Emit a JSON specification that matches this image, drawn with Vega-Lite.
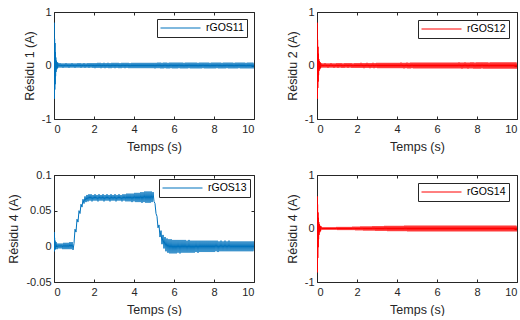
{
  "$schema": "https://vega.github.io/schema/vega-lite/v6.json",
  "padding": {"left": 7, "top": 5, "right": 0, "bottom": 0},
  "background": "white",
  "config": {
    "view": {"stroke": "#262626", "strokeWidth": 1},
    "font": "Liberation Sans",
    "axis": {"domain": false, "grid": false, "tickSize": -3, "tickColor": "#262626", "labelColor": "#262626", "titleColor": "#262626", "labelFontSize": 11, "titleFontSize": 12.5, "titleFontWeight": "normal", "labelFont": "Liberation Sans", "titleFont": "Liberation Sans"},
    "legend": {"orient": "top-right", "offset": 7, "strokeColor": "#262626", "fillColor": "white", "padding": 3, "clipHeight": 12, "symbolType": "stroke", "symbolSize": 1600, "symbolStrokeWidth": 1, "labelOffset": 5, "labelFontSize": 10.5, "labelColor": "#000000", "labelFont": "Liberation Sans", "cornerRadius": 0},
    "locale": {"number": {"decimal": ".", "thousands": ",", "grouping": [3], "currency": ["$", ""], "minus": "-"}}
  },
  "datasets": {
    "s1": [{"t":0,"v":0},{"t":0.01,"v":0.8},{"t":0.02,"v":-0.62},{"t":0.03,"v":0.5},{"t":0.04,"v":-0.45},{"t":0.05,"v":0.42},{"t":0.06,"v":-0.35},{"t":0.07,"v":0.25},{"t":0.08,"v":-0.2},{"t":0.09,"v":0.15},{"t":0.1,"v":-0.12},{"t":0.12,"v":0.09},{"t":0.14,"v":-0.07},{"t":0.16,"v":0.06},{"t":0.18,"v":-0.05},{"t":0.2,"v":0.05},
      {"t":0.25,"v":-0.04},{"t":0.3,"v":0.045},{"t":0.35,"v":-0.04},{"t":0.4,"v":0.04},{"t":0.45,"v":-0.045},{"t":0.5,"v":0.04},{"t":0.55,"v":-0.04},{"t":0.6,"v":0.045},{"t":0.65,"v":-0.04},{"t":0.7,"v":0.04},{"t":0.75,"v":-0.045},{"t":0.8,"v":0.04},{"t":0.85,"v":-0.04},{"t":0.9,"v":0.045},{"t":0.95,"v":-0.04},{"t":1,"v":0.04},
      {"t":1.05,"v":-0.045},{"t":1.1,"v":0.04},{"t":1.15,"v":-0.04},{"t":1.2,"v":0.045},{"t":1.25,"v":-0.04},{"t":1.3,"v":0.045},{"t":1.35,"v":-0.045},{"t":1.4,"v":0.04},{"t":1.45,"v":-0.04},{"t":1.5,"v":0.045},{"t":1.55,"v":-0.045},{"t":1.6,"v":0.04},{"t":1.65,"v":-0.04},{"t":1.7,"v":0.045},{"t":1.75,"v":-0.045},{"t":1.8,"v":0.045},{"t":1.85,"v":-0.04},{"t":1.9,"v":0.045},{"t":1.95,"v":-0.045},{"t":2,"v":0.045},
      {"t":2.05,"v":-0.05},{"t":2.1,"v":0.045},{"t":2.15,"v":-0.045},{"t":2.2,"v":0.05},{"t":2.25,"v":-0.045},{"t":2.3,"v":0.05},{"t":2.35,"v":-0.05},{"t":2.4,"v":0.045},{"t":2.45,"v":-0.045},{"t":2.5,"v":0.05},{"t":2.55,"v":-0.05},{"t":2.6,"v":0.045},{"t":2.65,"v":-0.045},{"t":2.7,"v":0.05},{"t":2.75,"v":-0.05},{"t":2.8,"v":0.045},{"t":2.85,"v":-0.05},{"t":2.9,"v":0.05},{"t":2.95,"v":-0.045},{"t":3,"v":0.05},
      {"t":3.05,"v":-0.05},{"t":3.1,"v":0.05},{"t":3.15,"v":-0.045},{"t":3.2,"v":0.05},{"t":3.25,"v":-0.05},{"t":3.3,"v":0.045},{"t":3.35,"v":-0.05},{"t":3.4,"v":0.05},{"t":3.45,"v":-0.045},{"t":3.5,"v":0.05},{"t":3.55,"v":-0.05},{"t":3.6,"v":0.05},{"t":3.65,"v":-0.045},{"t":3.7,"v":0.05},{"t":3.75,"v":-0.05},{"t":3.8,"v":0.045},{"t":3.85,"v":-0.05},{"t":3.9,"v":0.05},{"t":3.95,"v":-0.05},{"t":4,"v":0.05},
      {"t":4.05,"v":-0.05},{"t":4.1,"v":0.05},{"t":4.15,"v":-0.05},{"t":4.2,"v":0.05},{"t":4.25,"v":-0.05},{"t":4.3,"v":0.05},{"t":4.35,"v":-0.05},{"t":4.4,"v":0.05},{"t":4.45,"v":-0.05},{"t":4.5,"v":0.05},{"t":4.55,"v":-0.05},{"t":4.6,"v":0.05},{"t":4.65,"v":-0.05},{"t":4.7,"v":0.05},{"t":4.75,"v":-0.05},{"t":4.8,"v":0.05},{"t":4.85,"v":-0.05},{"t":4.9,"v":0.05},{"t":4.95,"v":-0.05},{"t":5,"v":0.05},
      {"t":5.05,"v":-0.055},{"t":5.1,"v":0.05},{"t":5.15,"v":-0.05},{"t":5.2,"v":0.055},{"t":5.25,"v":-0.05},{"t":5.3,"v":0.055},{"t":5.35,"v":-0.055},{"t":5.4,"v":0.05},{"t":5.45,"v":-0.055},{"t":5.5,"v":0.055},{"t":5.55,"v":-0.05},{"t":5.6,"v":0.055},{"t":5.65,"v":-0.055},{"t":5.7,"v":0.05},{"t":5.75,"v":-0.055},{"t":5.8,"v":0.055},{"t":5.85,"v":-0.05},{"t":5.9,"v":0.055},{"t":5.95,"v":-0.055},{"t":6,"v":0.055},
      {"t":6.05,"v":-0.055},{"t":6.1,"v":0.055},{"t":6.15,"v":-0.055},{"t":6.2,"v":0.055},{"t":6.25,"v":-0.05},{"t":6.3,"v":0.055},{"t":6.35,"v":-0.055},{"t":6.4,"v":0.055},{"t":6.45,"v":-0.055},{"t":6.5,"v":0.05},{"t":6.55,"v":-0.055},{"t":6.6,"v":0.055},{"t":6.65,"v":-0.055},{"t":6.7,"v":0.055},{"t":6.75,"v":-0.05},{"t":6.8,"v":0.055},{"t":6.85,"v":-0.055},{"t":6.9,"v":0.055},{"t":6.95,"v":-0.055},{"t":7,"v":0.055},
      {"t":7.05,"v":-0.055},{"t":7.1,"v":0.055},{"t":7.15,"v":-0.055},{"t":7.2,"v":0.05},{"t":7.25,"v":-0.055},{"t":7.3,"v":0.055},{"t":7.35,"v":-0.055},{"t":7.4,"v":0.055},{"t":7.45,"v":-0.05},{"t":7.5,"v":0.055},{"t":7.55,"v":-0.055},{"t":7.6,"v":0.055},{"t":7.65,"v":-0.055},{"t":7.7,"v":0.055},{"t":7.75,"v":-0.055},{"t":7.8,"v":0.05},{"t":7.85,"v":-0.055},{"t":7.9,"v":0.055},{"t":7.95,"v":-0.055},{"t":8,"v":0.055},
      {"t":8.05,"v":-0.055},{"t":8.1,"v":0.055},{"t":8.15,"v":-0.05},{"t":8.2,"v":0.055},{"t":8.25,"v":-0.055},{"t":8.3,"v":0.055},{"t":8.35,"v":-0.055},{"t":8.4,"v":0.05},{"t":8.45,"v":-0.055},{"t":8.5,"v":0.055},{"t":8.55,"v":-0.055},{"t":8.6,"v":0.055},{"t":8.65,"v":-0.05},{"t":8.7,"v":0.055},{"t":8.75,"v":-0.055},{"t":8.8,"v":0.055},{"t":8.85,"v":-0.055},{"t":8.9,"v":0.055},{"t":8.95,"v":-0.055},{"t":9,"v":0.05},
      {"t":9.05,"v":-0.055},{"t":9.1,"v":0.055},{"t":9.15,"v":-0.055},{"t":9.2,"v":0.055},{"t":9.25,"v":-0.05},{"t":9.3,"v":0.055},{"t":9.35,"v":-0.055},{"t":9.4,"v":0.055},{"t":9.45,"v":-0.055},{"t":9.5,"v":0.055},{"t":9.55,"v":-0.055},{"t":9.6,"v":0.05},{"t":9.65,"v":-0.055},{"t":9.7,"v":0.055},{"t":9.75,"v":-0.055},{"t":9.8,"v":0.055},{"t":9.85,"v":-0.055},{"t":9.9,"v":0.055},{"t":9.95,"v":-0.055},{"t":10,"v":0.055}],
    "s2": [{"t":0,"v":0},{"t":0.01,"v":0.8},{"t":0.02,"v":-0.62},{"t":0.03,"v":0.48},{"t":0.04,"v":-0.42},{"t":0.05,"v":0.35},{"t":0.06,"v":-0.3},{"t":0.07,"v":0.22},{"t":0.08,"v":-0.18},{"t":0.09,"v":0.12},{"t":0.1,"v":-0.1},{"t":0.12,"v":0.08},{"t":0.14,"v":-0.07},{"t":0.16,"v":0.06},{"t":0.18,"v":-0.05},{"t":0.2,"v":0.045},
      {"t":0.25,"v":-0.04},{"t":0.3,"v":0.04},{"t":0.35,"v":-0.04},{"t":0.4,"v":0.045},{"t":0.45,"v":-0.04},{"t":0.5,"v":0.04},{"t":0.55,"v":-0.045},{"t":0.6,"v":0.04},{"t":0.65,"v":-0.04},{"t":0.7,"v":0.045},{"t":0.75,"v":-0.04},{"t":0.8,"v":0.04},{"t":0.85,"v":-0.045},{"t":0.9,"v":0.04},{"t":0.95,"v":-0.04},{"t":1,"v":0.045},
      {"t":1.05,"v":-0.045},{"t":1.1,"v":0.045},{"t":1.15,"v":-0.04},{"t":1.2,"v":0.045},{"t":1.25,"v":-0.045},{"t":1.3,"v":0.04},{"t":1.35,"v":-0.045},{"t":1.4,"v":0.045},{"t":1.45,"v":-0.04},{"t":1.5,"v":0.045},{"t":1.55,"v":-0.045},{"t":1.6,"v":0.045},{"t":1.65,"v":-0.04},{"t":1.7,"v":0.045},{"t":1.75,"v":-0.045},{"t":1.8,"v":0.04},{"t":1.85,"v":-0.045},{"t":1.9,"v":0.045},{"t":1.95,"v":-0.045},{"t":2,"v":0.045},
      {"t":2.05,"v":-0.045},{"t":2.1,"v":0.045},{"t":2.15,"v":-0.045},{"t":2.2,"v":0.05},{"t":2.25,"v":-0.045},{"t":2.3,"v":0.045},{"t":2.35,"v":-0.05},{"t":2.4,"v":0.045},{"t":2.45,"v":-0.045},{"t":2.5,"v":0.05},{"t":2.55,"v":-0.045},{"t":2.6,"v":0.045},{"t":2.65,"v":-0.05},{"t":2.7,"v":0.045},{"t":2.75,"v":-0.045},{"t":2.8,"v":0.05},{"t":2.85,"v":-0.05},{"t":2.9,"v":0.045},{"t":2.95,"v":-0.045},{"t":3,"v":0.05},
      {"t":3.05,"v":-0.05},{"t":3.1,"v":0.05},{"t":3.15,"v":-0.05},{"t":3.2,"v":0.05},{"t":3.25,"v":-0.05},{"t":3.3,"v":0.05},{"t":3.35,"v":-0.05},{"t":3.4,"v":0.05},{"t":3.45,"v":-0.05},{"t":3.5,"v":0.05},{"t":3.55,"v":-0.05},{"t":3.6,"v":0.05},{"t":3.65,"v":-0.05},{"t":3.7,"v":0.05},{"t":3.75,"v":-0.05},{"t":3.8,"v":0.05},{"t":3.85,"v":-0.05},{"t":3.9,"v":0.05},{"t":3.95,"v":-0.05},{"t":4,"v":0.05},
      {"t":4.05,"v":-0.05},{"t":4.1,"v":0.05},{"t":4.15,"v":-0.05},{"t":4.2,"v":0.055},{"t":4.25,"v":-0.05},{"t":4.3,"v":0.05},{"t":4.35,"v":-0.055},{"t":4.4,"v":0.05},{"t":4.45,"v":-0.05},{"t":4.5,"v":0.055},{"t":4.55,"v":-0.055},{"t":4.6,"v":0.05},{"t":4.65,"v":-0.055},{"t":4.7,"v":0.055},{"t":4.75,"v":-0.05},{"t":4.8,"v":0.055},{"t":4.85,"v":-0.055},{"t":4.9,"v":0.055},{"t":4.95,"v":-0.055},{"t":5,"v":0.055},
      {"t":5.05,"v":-0.055},{"t":5.1,"v":0.055},{"t":5.15,"v":-0.055},{"t":5.2,"v":0.055},{"t":5.25,"v":-0.055},{"t":5.3,"v":0.055},{"t":5.35,"v":-0.055},{"t":5.4,"v":0.055},{"t":5.45,"v":-0.055},{"t":5.5,"v":0.055},{"t":5.55,"v":-0.055},{"t":5.6,"v":0.055},{"t":5.65,"v":-0.055},{"t":5.7,"v":0.055},{"t":5.75,"v":-0.055},{"t":5.8,"v":0.055},{"t":5.85,"v":-0.055},{"t":5.9,"v":0.055},{"t":5.95,"v":-0.055},{"t":6,"v":0.055},
      {"t":6.05,"v":-0.055},{"t":6.1,"v":0.055},{"t":6.15,"v":-0.055},{"t":6.2,"v":0.055},{"t":6.25,"v":-0.055},{"t":6.3,"v":0.055},{"t":6.35,"v":-0.055},{"t":6.4,"v":0.055},{"t":6.45,"v":-0.055},{"t":6.5,"v":0.055},{"t":6.55,"v":-0.055},{"t":6.6,"v":0.055},{"t":6.65,"v":-0.055},{"t":6.7,"v":0.055},{"t":6.75,"v":-0.055},{"t":6.8,"v":0.055},{"t":6.85,"v":-0.055},{"t":6.9,"v":0.055},{"t":6.95,"v":-0.055},{"t":7,"v":0.055},
      {"t":7.05,"v":-0.055},{"t":7.1,"v":0.06},{"t":7.15,"v":-0.055},{"t":7.2,"v":0.055},{"t":7.25,"v":-0.06},{"t":7.3,"v":0.055},{"t":7.35,"v":-0.055},{"t":7.4,"v":0.06},{"t":7.45,"v":-0.055},{"t":7.5,"v":0.055},{"t":7.55,"v":-0.06},{"t":7.6,"v":0.055},{"t":7.65,"v":-0.055},{"t":7.7,"v":0.06},{"t":7.75,"v":-0.055},{"t":7.8,"v":0.06},{"t":7.85,"v":-0.06},{"t":7.9,"v":0.055},{"t":7.95,"v":-0.06},{"t":8,"v":0.06},
      {"t":8.05,"v":-0.06},{"t":8.1,"v":0.06},{"t":8.15,"v":-0.06},{"t":8.2,"v":0.06},{"t":8.25,"v":-0.055},{"t":8.3,"v":0.06},{"t":8.35,"v":-0.06},{"t":8.4,"v":0.06},{"t":8.45,"v":-0.06},{"t":8.5,"v":0.06},{"t":8.55,"v":-0.06},{"t":8.6,"v":0.055},{"t":8.65,"v":-0.06},{"t":8.7,"v":0.06},{"t":8.75,"v":-0.06},{"t":8.8,"v":0.06},{"t":8.85,"v":-0.06},{"t":8.9,"v":0.06},{"t":8.95,"v":-0.06},{"t":9,"v":0.06},
      {"t":9.05,"v":-0.06},{"t":9.1,"v":0.06},{"t":9.15,"v":-0.06},{"t":9.2,"v":0.06},{"t":9.25,"v":-0.06},{"t":9.3,"v":0.06},{"t":9.35,"v":-0.06},{"t":9.4,"v":0.06},{"t":9.45,"v":-0.06},{"t":9.5,"v":0.06},{"t":9.55,"v":-0.06},{"t":9.6,"v":0.06},{"t":9.65,"v":-0.06},{"t":9.7,"v":0.06},{"t":9.75,"v":-0.06},{"t":9.8,"v":0.06},{"t":9.85,"v":-0.06},{"t":9.9,"v":0.06},{"t":9.95,"v":-0.06},{"t":10,"v":0.06}],
    "s3": [{"t":0,"v":0},{"t":0.01,"v":0.02},{"t":0.02,"v":-0.007},{"t":0.03,"v":0.012},{"t":0.04,"v":-0.005},{"t":0.05,"v":0.008},{"t":0.075,"v":-0.004},{"t":0.1,"v":0.006},
      {"t":0.15,"v":-0.004},{"t":0.2,"v":0.004},{"t":0.25,"v":-0.003},{"t":0.3,"v":0.004},{"t":0.35,"v":-0.003},{"t":0.4,"v":0.004},{"t":0.45,"v":-0.004},{"t":0.5,"v":0.005},{"t":0.55,"v":-0.004},{"t":0.6,"v":0.005},{"t":0.65,"v":-0.004},{"t":0.7,"v":0.005},{"t":0.75,"v":-0.004},{"t":0.8,"v":0.006},{"t":0.85,"v":-0.004},{"t":0.9,"v":0.006},{"t":0.95,"v":-0.005},{"t":1,"v":0.004},
      {"t":1.05,"v":0.024},{"t":1.1,"v":0.02},{"t":1.15,"v":0.038},{"t":1.2,"v":0.034},{"t":1.25,"v":0.05},{"t":1.3,"v":0.046},{"t":1.35,"v":0.059},{"t":1.4,"v":0.055},{"t":1.45,"v":0.066},{"t":1.5,"v":0.06},{"t":1.55,"v":0.07},{"t":1.6,"v":0.062},{"t":1.65,"v":0.072},
      {"t":1.7,"v":0.063},{"t":1.75,"v":0.073},{"t":1.8,"v":0.064},{"t":1.85,"v":0.073},{"t":1.9,"v":0.063},{"t":1.95,"v":0.072},{"t":2,"v":0.064},{"t":2.05,"v":0.073},{"t":2.1,"v":0.064},{"t":2.15,"v":0.072},{"t":2.2,"v":0.063},{"t":2.25,"v":0.073},{"t":2.3,"v":0.064},{"t":2.35,"v":0.072},{"t":2.4,"v":0.064},{"t":2.45,"v":0.073},{"t":2.5,"v":0.063},{"t":2.55,"v":0.072},{"t":2.6,"v":0.064},{"t":2.65,"v":0.073},{"t":2.7,"v":0.064},{"t":2.75,"v":0.072},{"t":2.8,"v":0.063},{"t":2.85,"v":0.073},{"t":2.9,"v":0.064},{"t":2.95,"v":0.072},{"t":3,"v":0.064},
      {"t":3.05,"v":0.073},{"t":3.1,"v":0.063},{"t":3.15,"v":0.072},{"t":3.2,"v":0.064},{"t":3.25,"v":0.073},{"t":3.3,"v":0.064},{"t":3.35,"v":0.072},{"t":3.4,"v":0.063},{"t":3.45,"v":0.073},{"t":3.5,"v":0.064},{"t":3.55,"v":0.073},{"t":3.6,"v":0.063},{"t":3.65,"v":0.074},{"t":3.7,"v":0.063},{"t":3.75,"v":0.074},{"t":3.8,"v":0.063},{"t":3.85,"v":0.074},{"t":3.9,"v":0.062},{"t":3.95,"v":0.074},{"t":4,"v":0.063},
      {"t":4.05,"v":0.075},{"t":4.1,"v":0.062},{"t":4.15,"v":0.075},{"t":4.2,"v":0.062},{"t":4.25,"v":0.075},{"t":4.3,"v":0.062},{"t":4.35,"v":0.076},{"t":4.4,"v":0.061},{"t":4.45,"v":0.076},{"t":4.5,"v":0.062},{"t":4.55,"v":0.077},{"t":4.6,"v":0.061},{"t":4.65,"v":0.077},{"t":4.7,"v":0.061},{"t":4.75,"v":0.077},{"t":4.8,"v":0.061},{"t":4.85,"v":0.077},{"t":4.9,"v":0.062},{"t":4.95,"v":0.076},{"t":5,"v":0.063},
      {"t":5.05,"v":0.06},{"t":5.1,"v":0.046},{"t":5.15,"v":0.042},{"t":5.2,"v":0.026},{"t":5.25,"v":0.03},{"t":5.3,"v":0.013},{"t":5.35,"v":0.022},{"t":5.4,"v":0.003},{"t":5.45,"v":0.016},{"t":5.5,"v":-0.003},{"t":5.55,"v":0.013},{"t":5.6,"v":-0.007},{"t":5.65,"v":0.011},{"t":5.7,"v":-0.009},{"t":5.75,"v":0.01},{"t":5.8,"v":-0.01},{"t":5.85,"v":0.01},{"t":5.9,"v":-0.01},{"t":5.95,"v":0.009},{"t":6,"v":-0.01},
      {"t":6.05,"v":0.009},{"t":6.1,"v":-0.01},{"t":6.15,"v":0.009},{"t":6.2,"v":-0.009},{"t":6.25,"v":0.009},{"t":6.3,"v":-0.01},{"t":6.35,"v":0.009},{"t":6.4,"v":-0.009},{"t":6.45,"v":0.009},{"t":6.5,"v":-0.009},{"t":6.55,"v":0.009},{"t":6.6,"v":-0.009},{"t":6.65,"v":0.008},{"t":6.7,"v":-0.009},{"t":6.75,"v":0.009},{"t":6.8,"v":-0.009},{"t":6.85,"v":0.008},{"t":6.9,"v":-0.009},{"t":6.95,"v":0.008},{"t":7,"v":-0.009},
      {"t":7.05,"v":0.008},{"t":7.1,"v":-0.008},{"t":7.15,"v":0.008},{"t":7.2,"v":-0.009},{"t":7.25,"v":0.008},{"t":7.3,"v":-0.008},{"t":7.35,"v":0.008},{"t":7.4,"v":-0.008},{"t":7.45,"v":0.008},{"t":7.5,"v":-0.008},{"t":7.55,"v":0.008},{"t":7.6,"v":-0.008},{"t":7.65,"v":0.008},{"t":7.7,"v":-0.008},{"t":7.75,"v":0.008},{"t":7.8,"v":-0.008},{"t":7.85,"v":0.008},{"t":7.9,"v":-0.008},{"t":7.95,"v":0.008},{"t":8,"v":-0.008},
      {"t":8.05,"v":0.008},{"t":8.1,"v":-0.007},{"t":8.15,"v":0.008},{"t":8.2,"v":-0.008},{"t":8.25,"v":0.007},{"t":8.3,"v":-0.007},{"t":8.35,"v":0.008},{"t":8.4,"v":-0.007},{"t":8.45,"v":0.007},{"t":8.5,"v":-0.007},{"t":8.55,"v":0.008},{"t":8.6,"v":-0.007},{"t":8.65,"v":0.007},{"t":8.7,"v":-0.007},{"t":8.75,"v":0.008},{"t":8.8,"v":-0.007},{"t":8.85,"v":0.007},{"t":8.9,"v":-0.007},{"t":8.95,"v":0.007},{"t":9,"v":-0.007},
      {"t":9.05,"v":0.007},{"t":9.1,"v":-0.007},{"t":9.15,"v":0.007},{"t":9.2,"v":-0.007},{"t":9.25,"v":0.007},{"t":9.3,"v":-0.007},{"t":9.35,"v":0.007},{"t":9.4,"v":-0.007},{"t":9.45,"v":0.007},{"t":9.5,"v":-0.007},{"t":9.55,"v":0.007},{"t":9.6,"v":-0.007},{"t":9.65,"v":0.007},{"t":9.7,"v":-0.007},{"t":9.75,"v":0.007},{"t":9.8,"v":-0.007},{"t":9.85,"v":0.007},{"t":9.9,"v":-0.007},{"t":9.95,"v":0.007},{"t":10,"v":-0.007}],
    "s4": [{"t":0,"v":0},{"t":0.01,"v":0.6},{"t":0.02,"v":-0.82},{"t":0.03,"v":0.45},{"t":0.04,"v":-0.55},{"t":0.05,"v":0.3},{"t":0.06,"v":-0.35},{"t":0.07,"v":0.2},{"t":0.08,"v":-0.2},{"t":0.09,"v":0.12},{"t":0.1,"v":-0.12},{"t":0.12,"v":0.08},{"t":0.14,"v":-0.07},{"t":0.16,"v":0.05},{"t":0.18,"v":-0.05},{"t":0.2,"v":0.04},
      {"t":0.25,"v":-0.025},{"t":0.3,"v":0.025},{"t":0.35,"v":-0.025},{"t":0.4,"v":0.025},{"t":0.45,"v":-0.025},{"t":0.5,"v":0.025},{"t":0.55,"v":-0.025},{"t":0.6,"v":0.025},{"t":0.65,"v":-0.025},{"t":0.7,"v":0.025},{"t":0.75,"v":-0.025},{"t":0.8,"v":0.025},{"t":0.85,"v":-0.025},{"t":0.9,"v":0.025},{"t":0.95,"v":-0.025},{"t":1,"v":0.03},
      {"t":1.05,"v":-0.03},{"t":1.1,"v":0.03},{"t":1.15,"v":-0.03},{"t":1.2,"v":0.03},{"t":1.25,"v":-0.03},{"t":1.3,"v":0.03},{"t":1.35,"v":-0.03},{"t":1.4,"v":0.03},{"t":1.45,"v":-0.03},{"t":1.5,"v":0.03},{"t":1.55,"v":-0.03},{"t":1.6,"v":0.03},{"t":1.65,"v":-0.03},{"t":1.7,"v":0.03},{"t":1.75,"v":-0.03},{"t":1.8,"v":0.035},{"t":1.85,"v":-0.03},{"t":1.9,"v":0.035},{"t":1.95,"v":-0.035},{"t":2,"v":0.035},
      {"t":2.05,"v":-0.035},{"t":2.1,"v":0.035},{"t":2.15,"v":-0.035},{"t":2.2,"v":0.04},{"t":2.25,"v":-0.035},{"t":2.3,"v":0.04},{"t":2.35,"v":-0.04},{"t":2.4,"v":0.04},{"t":2.45,"v":-0.04},{"t":2.5,"v":0.04},{"t":2.55,"v":-0.04},{"t":2.6,"v":0.04},{"t":2.65,"v":-0.04},{"t":2.7,"v":0.04},{"t":2.75,"v":-0.04},{"t":2.8,"v":0.045},{"t":2.85,"v":-0.04},{"t":2.9,"v":0.045},{"t":2.95,"v":-0.045},{"t":3,"v":0.045},
      {"t":3.05,"v":-0.045},{"t":3.1,"v":0.045},{"t":3.15,"v":-0.045},{"t":3.2,"v":0.045},{"t":3.25,"v":-0.045},{"t":3.3,"v":0.045},{"t":3.35,"v":-0.045},{"t":3.4,"v":0.05},{"t":3.45,"v":-0.045},{"t":3.5,"v":0.05},{"t":3.55,"v":-0.05},{"t":3.6,"v":0.05},{"t":3.65,"v":-0.05},{"t":3.7,"v":0.05},{"t":3.75,"v":-0.05},{"t":3.8,"v":0.05},{"t":3.85,"v":-0.05},{"t":3.9,"v":0.05},{"t":3.95,"v":-0.05},{"t":4,"v":0.05},
      {"t":4.05,"v":-0.05},{"t":4.1,"v":0.05},{"t":4.15,"v":-0.05},{"t":4.2,"v":0.05},{"t":4.25,"v":-0.05},{"t":4.3,"v":0.05},{"t":4.35,"v":-0.05},{"t":4.4,"v":0.055},{"t":4.45,"v":-0.05},{"t":4.5,"v":0.055},{"t":4.55,"v":-0.055},{"t":4.6,"v":0.055},{"t":4.65,"v":-0.055},{"t":4.7,"v":0.055},{"t":4.75,"v":-0.055},{"t":4.8,"v":0.055},{"t":4.85,"v":-0.055},{"t":4.9,"v":0.055},{"t":4.95,"v":-0.055},{"t":5,"v":0.055},
      {"t":5.05,"v":-0.055},{"t":5.1,"v":0.055},{"t":5.15,"v":-0.055},{"t":5.2,"v":0.055},{"t":5.25,"v":-0.055},{"t":5.3,"v":0.055},{"t":5.35,"v":-0.055},{"t":5.4,"v":0.055},{"t":5.45,"v":-0.055},{"t":5.5,"v":0.055},{"t":5.55,"v":-0.055},{"t":5.6,"v":0.055},{"t":5.65,"v":-0.055},{"t":5.7,"v":0.055},{"t":5.75,"v":-0.055},{"t":5.8,"v":0.055},{"t":5.85,"v":-0.055},{"t":5.9,"v":0.055},{"t":5.95,"v":-0.055},{"t":6,"v":0.055},
      {"t":6.05,"v":-0.055},{"t":6.1,"v":0.055},{"t":6.15,"v":-0.055},{"t":6.2,"v":0.055},{"t":6.25,"v":-0.055},{"t":6.3,"v":0.055},{"t":6.35,"v":-0.055},{"t":6.4,"v":0.055},{"t":6.45,"v":-0.055},{"t":6.5,"v":0.055},{"t":6.55,"v":-0.055},{"t":6.6,"v":0.055},{"t":6.65,"v":-0.055},{"t":6.7,"v":0.055},{"t":6.75,"v":-0.055},{"t":6.8,"v":0.055},{"t":6.85,"v":-0.055},{"t":6.9,"v":0.055},{"t":6.95,"v":-0.055},{"t":7,"v":0.055},
      {"t":7.05,"v":-0.055},{"t":7.1,"v":0.055},{"t":7.15,"v":-0.055},{"t":7.2,"v":0.055},{"t":7.25,"v":-0.055},{"t":7.3,"v":0.055},{"t":7.35,"v":-0.055},{"t":7.4,"v":0.055},{"t":7.45,"v":-0.055},{"t":7.5,"v":0.055},{"t":7.55,"v":-0.055},{"t":7.6,"v":0.055},{"t":7.65,"v":-0.055},{"t":7.7,"v":0.055},{"t":7.75,"v":-0.055},{"t":7.8,"v":0.055},{"t":7.85,"v":-0.055},{"t":7.9,"v":0.055},{"t":7.95,"v":-0.055},{"t":8,"v":0.055},
      {"t":8.05,"v":-0.055},{"t":8.1,"v":0.055},{"t":8.15,"v":-0.055},{"t":8.2,"v":0.055},{"t":8.25,"v":-0.055},{"t":8.3,"v":0.055},{"t":8.35,"v":-0.055},{"t":8.4,"v":0.055},{"t":8.45,"v":-0.055},{"t":8.5,"v":0.055},{"t":8.55,"v":-0.055},{"t":8.6,"v":0.055},{"t":8.65,"v":-0.055},{"t":8.7,"v":0.055},{"t":8.75,"v":-0.055},{"t":8.8,"v":0.055},{"t":8.85,"v":-0.055},{"t":8.9,"v":0.055},{"t":8.95,"v":-0.055},{"t":9,"v":0.055},
      {"t":9.05,"v":-0.055},{"t":9.1,"v":0.055},{"t":9.15,"v":-0.055},{"t":9.2,"v":0.055},{"t":9.25,"v":-0.055},{"t":9.3,"v":0.055},{"t":9.35,"v":-0.055},{"t":9.4,"v":0.055},{"t":9.45,"v":-0.055},{"t":9.5,"v":0.055},{"t":9.55,"v":-0.055},{"t":9.6,"v":0.055},{"t":9.65,"v":-0.055},{"t":9.7,"v":0.055},{"t":9.75,"v":-0.055},{"t":9.8,"v":0.055},{"t":9.85,"v":-0.055},{"t":9.9,"v":0.055},{"t":9.95,"v":-0.055},{"t":10,"v":0.055}]
  },
  "columns": 2,
  "spacing": {"row": 56, "column": 63},
  "bounds": "flush",
  "resolve": {"scale": {"color": "independent"}},
  "concat": [
    {
      "width": 200, "height": 107,
      "resolve": {"axis": {"x": "independent", "y": "independent"}},
      "layer": [
        {"data": {"name": "s1"}, "mark": {"type": "line", "strokeWidth": 1, "clip": true},
         "encoding": {
           "x": {"field": "t", "type": "quantitative", "scale": {"domain": [0, 10], "nice": false}, "axis": {"orient": "bottom", "values": [0, 2, 4, 6, 8, 10], "title": "Temps (s)", "labelPadding": 7, "titlePadding": 6}},
           "y": {"field": "v", "type": "quantitative", "scale": {"domain": [-1, 1], "nice": false}, "axis": {"orient": "left", "values": [-1, 0, 1], "format": "~g", "title": "Résidu 1 (A)", "labelPadding": 6, "titlePadding": 5}},
           "color": {"datum": "rGOS11", "type": "nominal", "scale": {"domain": ["rGOS11"], "range": ["#0072BD"]}, "legend": {"title": null, "offset": 7, "symbolStrokeColor": "#0072BD"}}
         }},
        {"data": {"name": "s1"}, "mark": {"type": "point", "opacity": 0},
         "encoding": {
           "x": {"field": "t", "type": "quantitative", "axis": {"orient": "top", "values": [0, 2, 4, 6, 8, 10], "labels": false, "title": null}},
           "y": {"field": "v", "type": "quantitative", "axis": {"orient": "right", "values": [-1, 0, 1], "labels": false, "title": null}}
         }}
      ]
    },
    {
      "width": 200, "height": 107,
      "resolve": {"axis": {"x": "independent", "y": "independent"}},
      "layer": [
        {"data": {"name": "s2"}, "mark": {"type": "line", "strokeWidth": 1, "clip": true},
         "encoding": {
           "x": {"field": "t", "type": "quantitative", "scale": {"domain": [0, 10], "nice": false}, "axis": {"orient": "bottom", "values": [0, 2, 4, 6, 8, 10], "title": "Temps (s)", "labelPadding": 7, "titlePadding": 6}},
           "y": {"field": "v", "type": "quantitative", "scale": {"domain": [-1, 1], "nice": false}, "axis": {"orient": "left", "values": [-1, 0, 1], "format": "~g", "title": "Résidu 2 (A)", "labelPadding": 6, "titlePadding": 5}},
           "color": {"datum": "rGOS12", "type": "nominal", "scale": {"domain": ["rGOS12"], "range": ["#FF0000"]}, "legend": {"title": null, "offset": 8, "symbolStrokeColor": "#FF0000"}}
         }},
        {"data": {"name": "s2"}, "mark": {"type": "point", "opacity": 0},
         "encoding": {
           "x": {"field": "t", "type": "quantitative", "axis": {"orient": "top", "values": [0, 2, 4, 6, 8, 10], "labels": false, "title": null}},
           "y": {"field": "v", "type": "quantitative", "axis": {"orient": "right", "values": [-1, 0, 1], "labels": false, "title": null}}
         }}
      ]
    },
    {
      "width": 200, "height": 107,
      "resolve": {"axis": {"x": "independent", "y": "independent"}},
      "layer": [
        {"data": {"name": "s3"}, "mark": {"type": "line", "strokeWidth": 1, "clip": true},
         "encoding": {
           "x": {"field": "t", "type": "quantitative", "scale": {"domain": [0, 10], "nice": false}, "axis": {"orient": "bottom", "values": [0, 2, 4, 6, 8, 10], "title": "Temps (s)", "labelPadding": 7, "titlePadding": 6}},
           "y": {"field": "v", "type": "quantitative", "scale": {"domain": [-0.05, 0.1], "nice": false}, "axis": {"orient": "left", "values": [-0.05, 0, 0.05, 0.1], "format": "~g", "title": "Résidu 4 (A)", "labelPadding": 6, "titlePadding": 5}},
           "color": {"datum": "rGOS13", "type": "nominal", "scale": {"domain": ["rGOS13"], "range": ["#0072BD"]}, "legend": {"title": null, "offset": 4, "symbolStrokeColor": "#0072BD"}}
         }},
        {"data": {"name": "s3"}, "mark": {"type": "point", "opacity": 0},
         "encoding": {
           "x": {"field": "t", "type": "quantitative", "axis": {"orient": "top", "values": [0, 2, 4, 6, 8, 10], "labels": false, "title": null}},
           "y": {"field": "v", "type": "quantitative", "axis": {"orient": "right", "values": [-0.05, 0, 0.05, 0.1], "labels": false, "title": null}}
         }}
      ]
    },
    {
      "width": 200, "height": 107,
      "resolve": {"axis": {"x": "independent", "y": "independent"}},
      "layer": [
        {"data": {"name": "s4"}, "mark": {"type": "line", "strokeWidth": 1, "clip": true},
         "encoding": {
           "x": {"field": "t", "type": "quantitative", "scale": {"domain": [0, 10], "nice": false}, "axis": {"orient": "bottom", "values": [0, 2, 4, 6, 8, 10], "title": "Temps (s)", "labelPadding": 7, "titlePadding": 6}},
           "y": {"field": "v", "type": "quantitative", "scale": {"domain": [-1, 1], "nice": false}, "axis": {"orient": "left", "values": [-1, 0, 1], "format": "~g", "title": "Résidu 4 (A)", "labelPadding": 6, "titlePadding": 5}},
           "color": {"datum": "rGOS14", "type": "nominal", "scale": {"domain": ["rGOS14"], "range": ["#FF0000"]}, "legend": {"title": null, "offset": 8, "symbolStrokeColor": "#FF0000"}}
         }},
        {"data": {"name": "s4"}, "mark": {"type": "point", "opacity": 0},
         "encoding": {
           "x": {"field": "t", "type": "quantitative", "axis": {"orient": "top", "values": [0, 2, 4, 6, 8, 10], "labels": false, "title": null}},
           "y": {"field": "v", "type": "quantitative", "axis": {"orient": "right", "values": [-1, 0, 1], "labels": false, "title": null}}
         }}
      ]
    }
  ]
}
